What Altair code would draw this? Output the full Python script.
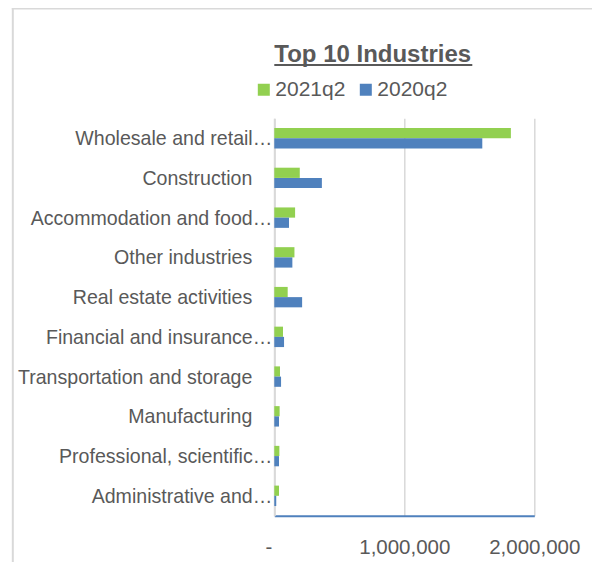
import altair as alt
import pandas as pd

industries = [
    "Wholesale and retail…",
    "Construction",
    "Accommodation and food…",
    "Other industries",
    "Real estate activities",
    "Financial and insurance…",
    "Transportation and storage",
    "Manufacturing",
    "Professional, scientific…",
    "Administrative and…",
]
q2021 = [1820000, 196000, 160000, 155000, 103000, 67000, 44000, 41000, 39000, 36000]
q2020 = [1600000, 366000, 113000, 139000, 214000, 75000, 52000, 36000, 36000, 15000]
series = ["2021q2", "2020q2"]
colors = ["#92D050", "#4F81BD"]
x_ticks = [0, 1000000, 2000000]
title_text = ["Top 10 Industries"]

FONT = "Liberation Sans, Arial"
TXT = "#595959"
GRID = "#D9D9D9"

rows = []
for name, a, b in zip(industries, q2021, q2020):
    rows.append({"industry": name, "series": series[0], "value": a})
    rows.append({"industry": name, "series": series[1], "value": b})
df = pd.DataFrame(rows)
lab_df = pd.DataFrame({"industry": industries,
                       "trunc": [s.endswith("…") for s in industries]})

y_enc = alt.Y("industry:N", sort=industries,
              scale=alt.Scale(paddingInner=0.486, paddingOuter=0.243),
              axis=alt.Axis(labels=False, ticks=False, title=None,
                            domainColor=GRID, domainWidth=2))

bars = alt.Chart(df).mark_bar().encode(
    y=y_enc,
    x=alt.X("value:Q", scale=alt.Scale(domain=[0, 2000000], nice=False),
            axis=alt.Axis(values=x_ticks, title=None,
                          labelExpr="datum.value == 0 ? '-' : format(datum.value, ',')",
                          grid=True, gridColor=GRID, gridWidth=1.5,
                          domainColor="#4F81BD", domainWidth=2,
                          ticks=False, tickSize=0, labelPadding=38,
                          labelFlush=False, labelOverlap=False,
                          labelBaseline="alphabetic", labelFont=FONT,
                          labelFontSize=20.5, labelColor=TXT,
                          labelOffset={"condition": {"test": "datum.value == 0", "value": -6}, "value": 0})),
    yOffset=alt.YOffset("series:N", sort=series),
    color=alt.Color("series:N", sort=series,
                    scale=alt.Scale(domain=series, range=colors),
                    legend=alt.Legend(orient="none", legendX=-21, legendY=-39.3,
                                      direction="horizontal", title=None,
                                      symbolType="square", symbolSize=144,
                                      symbolStrokeWidth=0, labelFont=FONT,
                                      labelFontSize=21, labelColor=TXT,
                                      labelOffset=1, columnPadding=9, padding=0)),
)

lab_base = alt.Chart(lab_df).encode(
    y=alt.Y("industry:N", sort=industries),
    x=alt.value(0),
    text="industry:N",
)
labels_t = lab_base.transform_filter("datum.trunc").mark_text(
    align="right", baseline="alphabetic", dx=-2, dy=7,
    font=FONT, fontSize=19.6, color=TXT)
labels_n = lab_base.transform_filter("!datum.trunc").mark_text(
    align="right", baseline="alphabetic", dx=-22, dy=7,
    font=FONT, fontSize=19.6, color=TXT)

one = pd.DataFrame({"a": [0]})
title = alt.Chart(pd.DataFrame({"t": title_text})).mark_text(
    align="left", baseline="alphabetic", font=FONT, fontSize=24,
    fontWeight="bold", color=TXT).encode(
    x=alt.value(0), y=alt.value(-56.6), text="t:N")
underline = alt.Chart(one).mark_rule(color=TXT, strokeWidth=2).encode(
    x=alt.value(0), x2=alt.value(198), y=alt.value(-53.3))
border_l = alt.Chart(one).mark_rule(color=GRID, strokeWidth=2).encode(
    x=alt.value(-261.5), y=alt.value(-120), y2=alt.value(470))
border_t = alt.Chart(one).mark_rule(color=GRID, strokeWidth=2).encode(
    y=alt.value(-109.8), x=alt.value(-262.5), x2=alt.value(340))

chart = alt.layer(border_l, border_t, bars, labels_t, labels_n,
                  title, underline).properties(
    width=260, height=397.4,
    autosize=alt.AutoSizeParams(type="none"),
    padding={"left": 266.3, "top": 110.3, "right": 58, "bottom": 46},
).configure_view(stroke=None)

chart.save("out.html", embed_options={"renderer": "svg", "actions": False})
